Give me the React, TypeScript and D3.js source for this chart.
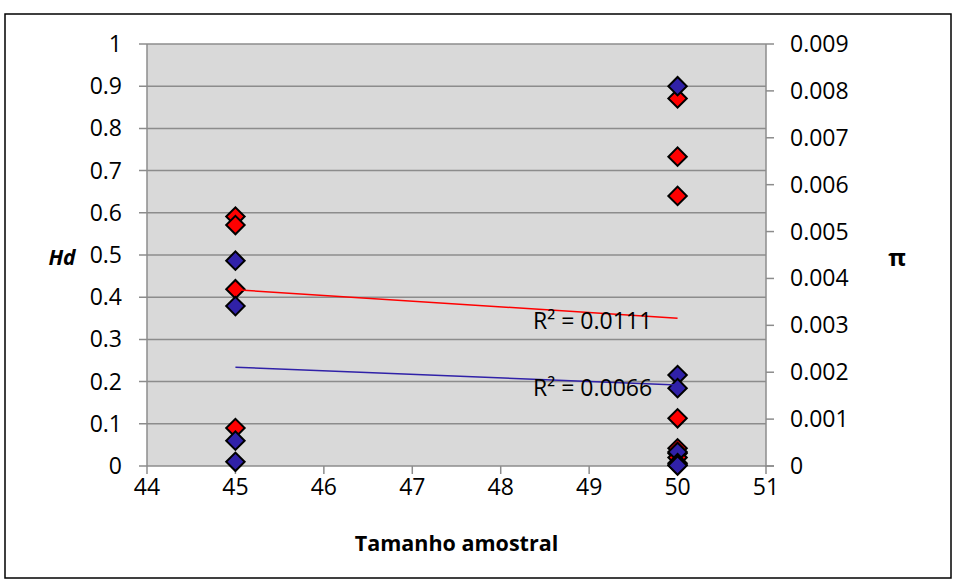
import React from 'react';
import * as d3 from 'd3';

// sample size of each population (x), Hd (left axis) and pi (right axis)
const sampleSize = [45, 45, 45, 45, 50, 50, 50, 50, 50, 50, 50];
const hdValues = [0.591, 0.571, 0.419, 0.09, 0.871, 0.733, 0.64, 0.113, 0.042, 0.03, 0.02];
const piValues = [0.00438, 0.00341, 0.00054, 0.00009, 0.0081, 0.00194, 0.00166, 0.0003, 0.00006, 0.00002, 0.00001];

const xTicks = [44, 45, 46, 47, 48, 49, 50, 51];
const hdTicks = [0, 0.1, 0.2, 0.3, 0.4, 0.5, 0.6, 0.7, 0.8, 0.9, 1];
const piTicks = [0, 0.001, 0.002, 0.003, 0.004, 0.005, 0.006, 0.007, 0.008, 0.009];

const hdR2 = 'R² = 0.0111';
const piR2 = 'R² = 0.0066';

const fit = (xs: number[], ys: number[]) => {
  const mx = d3.mean(xs)!;
  const my = d3.mean(ys)!;
  const sxy = d3.sum(xs, (x, i) => (x - mx) * (ys[i] - my));
  const sxx = d3.sum(xs, (x) => (x - mx) * (x - mx));
  const slope = sxy / sxx;
  return (x: number) => my + slope * (x - mx);
};

const App = () => {
  const width = 956;
  const height = 583;
  const left = 147;
  const right = 766;
  const top = 44;
  const bottom = 466;

  const x = d3.scaleLinear().domain([44, 51]).range([left, right]);
  const yHd = d3.scaleLinear().domain([0, 1]).range([bottom, top]);
  const yPi = d3.scaleLinear().domain([0, 0.009]).range([bottom, top]);

  const diamond = d3.symbol(d3.symbolSquare, 170)()!;
  const font = "'Open Sans', sans-serif";
  const red = '#ff0000';
  const blue = '#3021a8';

  const hdFit = fit(sampleSize, hdValues);
  const piFit = fit(sampleSize, piValues);
  const [x0, x1] = d3.extent(sampleSize) as [number, number];
  const hdLine = d3.line<number>().x((d) => x(d)).y((d) => yHd(hdFit(d)));
  const piLine = d3.line<number>().x((d) => x(d)).y((d) => yPi(piFit(d)));

  return (
    <div style={{ position: 'absolute', left: 0, top: 0 }}>
      <svg width={width} height={height} style={{ display: 'block', background: '#fff' }}>
        <rect x={5} y={14} width={946} height={564} fill="#fff" stroke="#000" strokeWidth={1.5} />
        <rect x={left} y={top} width={right - left} height={bottom - top} fill="#d9d9d9" />

        {hdTicks.map((t) => (
          <g key={'h' + t}>
            <line x1={left - 8} x2={t === 0 ? right + 8 : right} y1={yHd(t)} y2={yHd(t)} stroke="#8c8c8c" strokeWidth={1.5} />
            <text x={122} y={yHd(t)} dy="0.35em" textAnchor="end" fontFamily={font} fontSize={23}>
              {t}
            </text>
          </g>
        ))}
        {piTicks.map((t) => (
          <g key={'p' + t}>
            <line x1={right} x2={right + 8} y1={yPi(t)} y2={yPi(t)} stroke="#8c8c8c" strokeWidth={1.5} />
            <text x={790} y={yPi(t)} dy="0.35em" textAnchor="start" fontFamily={font} fontSize={23}>
              {t}
            </text>
          </g>
        ))}
        <line x1={left} x2={left} y1={top} y2={bottom} stroke="#8c8c8c" strokeWidth={1.5} />
        <line x1={right} x2={right} y1={top} y2={bottom + 1} stroke="#8c8c8c" strokeWidth={1.5} />
        {xTicks.map((t) => (
          <g key={'x' + t}>
            <line x1={x(t)} x2={x(t)} y1={bottom} y2={bottom + 8} stroke="#8c8c8c" strokeWidth={1.5} />
            <text x={x(t)} y={487} dy="0.35em" textAnchor="middle" fontFamily={font} fontSize={23}>
              {t}
            </text>
          </g>
        ))}

        <text x={(left + right) / 2} y={543} dy="0.35em" textAnchor="middle" fontFamily={font} fontSize={21.5} fontWeight="bold">
          Tamanho amostral
        </text>
        <text x={62} y={258} dy="0.35em" textAnchor="middle" fontFamily={font} fontSize={21} fontWeight="bold" fontStyle="italic">
          Hd
        </text>
        <text x={897} y={258} dy="0.35em" textAnchor="middle" fontFamily={font} fontSize={24} fontWeight="bold">
          π
        </text>

        {hdValues.map((v, i) => (
          <path key={'hp' + i} d={diamond} transform={`translate(${x(sampleSize[i])},${yHd(v)}) rotate(45)`} fill={red} stroke="#000" strokeWidth={2} />
        ))}
        {piValues.map((v, i) => (
          <path key={'pp' + i} d={diamond} transform={`translate(${x(sampleSize[i])},${yPi(v)}) rotate(45)`} fill={blue} stroke="#000" strokeWidth={2} />
        ))}

        <path d={hdLine([x0, x1])!} stroke={red} strokeWidth={1.5} fill="none" />
        <path d={piLine([x0, x1])!} stroke={blue} strokeWidth={1.5} fill="none" />

        <text x={533} y={321} dy="0.35em" fontFamily={font} fontSize={23}>
          {hdR2}
        </text>
        <text x={533} y={388} dy="0.35em" fontFamily={font} fontSize={23}>
          {piR2}
        </text>
      </svg>
    </div>
  );
};

export default App;
